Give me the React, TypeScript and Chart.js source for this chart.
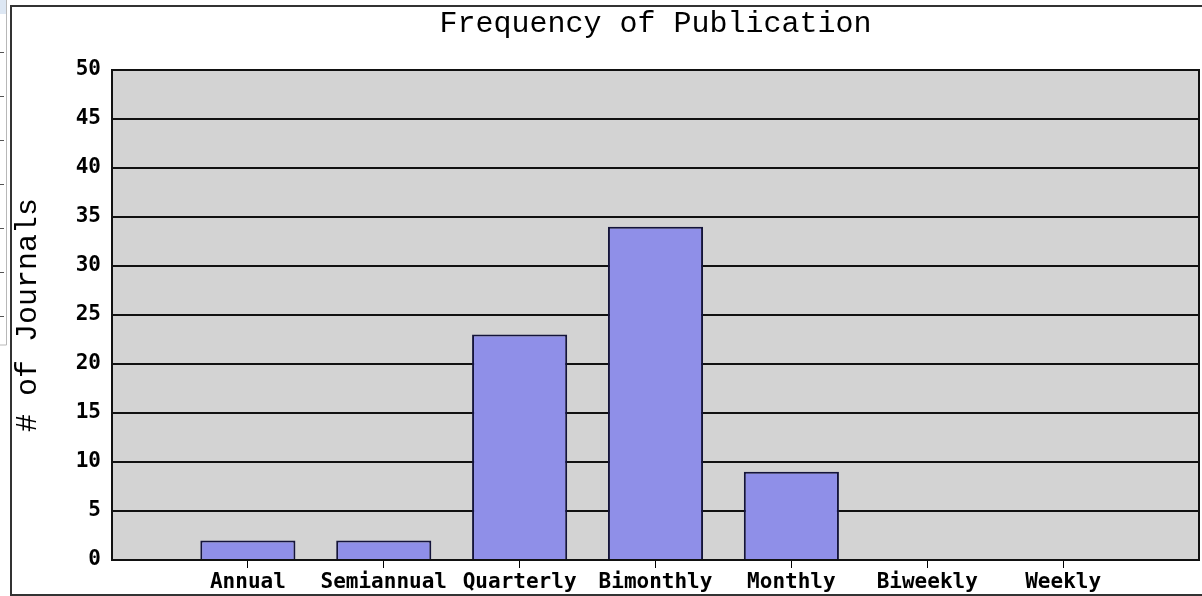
import React, { useEffect, useRef } from "react";
import { Chart, registerables } from "chart.js";

Chart.register(...registerables);

const chartTitle = "Frequency of Publication";
const yAxisTitle = "# of Journals";
const categories = ["Annual", "Semiannual", "Quarterly", "Bimonthly", "Monthly", "Biweekly", "Weekly"];
const journalCounts = [2, 2, 23, 34, 9, 0, 0];
const yMin = 0;
const yMax = 50;
const yStep = 5;

const W = 1202;
const H = 596;

const framePlugin = {
  id: "frames",
  beforeDraw(chart: any) {
    const { ctx, chartArea } = chart;
    ctx.save();
    ctx.fillStyle = "#ffffff";
    ctx.fillRect(0, 0, chart.width, chart.height);
    // left strip of the page
    ctx.fillStyle = "#dde7f3";
    ctx.fillRect(0, 0, 6, 14);
    ctx.strokeStyle = "#b8b8b8";
    ctx.lineWidth = 1;
    ctx.beginPath();
    ctx.moveTo(6.5, 0);
    ctx.lineTo(6.5, 345);
    ctx.lineTo(0, 345);
    ctx.stroke();
    ctx.strokeStyle = "#555";
    [52, 96, 140, 184, 228, 272, 316].forEach((y) => {
      ctx.beginPath();
      ctx.moveTo(0, y + 0.5);
      ctx.lineTo(4, y + 0.5);
      ctx.stroke();
    });
    // outer frame
    ctx.strokeStyle = "#333";
    ctx.lineWidth = 2;
    ctx.strokeRect(11, 6, chart.width + 20, H - 7);
    // plot background
    ctx.fillStyle = "#d3d3d3";
    ctx.fillRect(chartArea.left, chartArea.top, chartArea.right - chartArea.left, chartArea.bottom - chartArea.top);
    ctx.restore();
  },
  afterDatasetsDraw(chart: any) {
    const { ctx, chartArea } = chart;
    ctx.save();
    ctx.strokeStyle = "#111";
    ctx.lineWidth = 2;
    ctx.strokeRect(chartArea.left, chartArea.top, chartArea.right - chartArea.left, chartArea.bottom - chartArea.top);
    ctx.restore();
  },
};

export default function App() {
  const ref = useRef<HTMLCanvasElement | null>(null);

  useEffect(() => {
    document.body.style.margin = "0";
    if (!ref.current) return;
    const labels = ["", ...categories, ""];
    const data = [null, ...journalCounts, null];
    const tickFont = { family: "'DejaVu Sans Mono', monospace", size: 21, weight: "bold" as const };
    const titleFont = { family: "'Liberation Mono', monospace", size: 30, weight: "normal" as const };
    const chart = new Chart(ref.current, {
      type: "bar",
      data: {
        labels,
        datasets: [
          {
            data,
            backgroundColor: "#8f8fe8",
            borderColor: "#14143a",
            borderWidth: 2,
            borderSkipped: "start",
            barPercentage: 0.7,
            categoryPercentage: 1,
          },
        ],
      },
      options: {
        animation: false,
        responsive: false,
        devicePixelRatio: 1,
        layout: { padding: { left: 0, right: 3, top: 0, bottom: 0 } },
        plugins: {
          legend: { display: false },
          tooltip: { enabled: false },
          title: {
            display: true,
            fullSize: false,
            text: chartTitle,
            color: "#000",
            font: titleFont,
            padding: { top: 6, bottom: 28 },
          },
        },
        scales: {
          x: {
            type: "category",
            offset: false,
            afterFit(scale: any) {
              scale.height = 36;
            },
            grid: {
              offset: false,
              drawOnChartArea: false,
              drawTicks: true,
              tickLength: 8,
              lineWidth: 1,
              color: (c: any) => (c.index === 0 || c.index === labels.length - 1 ? "rgba(0,0,0,0)" : "#000"),
            },
            border: { display: false },
            ticks: {
              autoSkip: false,
              maxRotation: 0,
              minRotation: 0,
              color: "#000",
              font: tickFont,
              padding: 2,
            },
          },
          y: {
            min: yMin,
            max: yMax,
            afterFit(scale: any) {
              scale.width = 112;
            },
            grid: {
              color: "#111",
              lineWidth: 2,
              drawTicks: false,
            },
            border: { display: false },
            ticks: {
              stepSize: yStep,
              color: "#000",
              font: tickFont,
              padding: 11,
            },
            title: {
              display: true,
              text: yAxisTitle,
              color: "#000",
              font: titleFont,
              padding: { top: 10, bottom: 0 },
            },
          },
        },
      },
      plugins: [framePlugin],
    });
    return () => chart.destroy();
  }, []);

  return (
    <div style={{ width: W, height: H, position: "relative", overflow: "hidden" }}>
      <canvas ref={ref} width={W} height={H} style={{ display: "block", width: W, height: H }} />
    </div>
  );
}
